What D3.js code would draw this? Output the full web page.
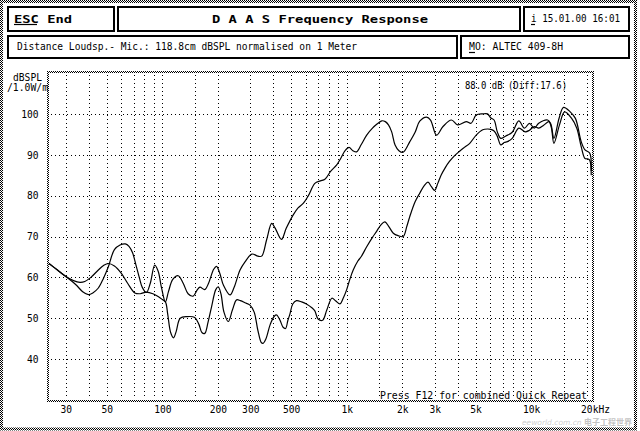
<!DOCTYPE html>
<html><head><meta charset="utf-8">
<title>DAAS Frequency Response</title>
<script src="https://d3js.org/d3.v7.min.js"></script>
<style>
body { margin: 0; background: #fff; }
svg { display: block; }
text { font-family: "DejaVu Sans Mono", "Liberation Mono", monospace; fill: #000; }
.grid line { stroke: #000; stroke-width: 1; stroke-dasharray: 1,3; shape-rendering: crispEdges; }
.box { fill: none; stroke: #000; stroke-width: 2.4; shape-rendering: crispEdges; }
.curve { fill: none; stroke: #000; stroke-width: 1.2; }
.axis text { font-size: 9.6px; }
</style>
</head>
<body>
<script>
// frequency response, two measurements (Hz / dB SPL)
const freqA = [24.3, 27, 30, 34, 37, 39.7, 42, 45, 48, 51, 55, 59, 63, 66, 69, 72, 75, 78, 82, 86,
  91, 95, 99, 104, 108, 114, 122, 130, 138, 147, 155, 160, 170, 178, 190, 197, 205, 215, 233, 245,
  264, 281, 306, 330, 346, 368, 392, 410, 443, 470, 513, 545, 581, 620, 672, 720, 762, 820, 883, 928,
  980, 1030, 1080, 1131, 1200, 1284, 1380, 1460, 1550, 1620, 1685, 1754, 1830, 1920, 2024, 2200, 2350, 2490, 2710, 2850,
  3070, 3330, 3700, 4000, 4450, 4730, 5040, 5470, 5800, 6050, 6300, 6560, 6850, 7290, 7900, 8580, 9200, 9800, 10400, 11000,
  12300, 12800, 13300, 14200, 15000, 16300, 17400, 18700, 19600, 20800, 21200];
const dbA = [63.4, 61.8, 60.2, 58.2, 56.5, 55.8, 56.2, 57.4, 59.8, 62.6, 66.8, 67.9, 68.2, 67.6, 66, 63, 60, 57.5, 56.3, 58.5,
  63, 61.5, 57.5, 54, 56.5, 59.5, 60.4, 58.5, 56, 55.4, 57, 57.6, 57, 58.5, 62, 62.7, 61, 58, 55.7, 57.5,
  61.8, 63.8, 65.7, 65.2, 65.2, 69.2, 73.2, 72, 69.3, 72, 75.3, 77, 78.1, 80, 83, 83.6, 84, 86, 87.5, 89.1,
  91, 91.8, 91, 90.7, 92.5, 94.8, 96.5, 97.5, 98.3, 98.1, 97.3, 95.6, 92.4, 91, 90.6, 93.2, 95.5, 98.2, 99.2, 98.5,
  94.8, 96.9, 98.5, 97.3, 98.1, 97.7, 99.7, 100, 100, 99, 98.5, 95.6, 94, 94.6, 95.5, 98.3, 96.5, 97.7, 96.5, 97.7,
  98.5, 97.5, 94, 99, 101.6, 100.5, 98.9, 93.2, 91.2, 90.4, 86];

const freqB = [24.3, 27, 30, 33, 35.8, 38, 41, 45, 48, 51, 55, 60, 65, 71, 76, 82, 89, 95, 100, 104,
  107, 111, 115, 119, 125, 136, 150, 158, 164, 170, 177, 185, 195, 201, 208, 216, 228, 240, 253, 265,
  281, 299, 315, 330, 345, 353, 365, 385, 405, 417, 435, 452, 466, 480, 492, 510, 534, 570, 605, 650,
  672, 700, 740, 780, 831, 870, 920, 960, 1000, 1040, 1085, 1150, 1200, 1284, 1380, 1450, 1530, 1610, 1700, 1790,
  1900, 2024, 2120, 2200, 2350, 2490, 2640, 2760, 2880, 3000, 3120, 3250, 3420, 3600, 3850, 4080, 4350, 4650, 5040, 5470,
  5800, 6050, 6300, 6560, 6850, 7150, 7440, 7900, 8580, 9300, 9800, 10400, 11000, 11700, 12500, 12900, 13300, 14300, 15200, 16600,
  17700, 18700, 19600, 20300, 20800, 21200];
const dbB = [63.4, 61.8, 60.2, 59.2, 58.8, 59, 60, 61.8, 62.9, 63.4, 62.8, 61, 58.5, 56.2, 56, 56.4, 56, 55.3, 54.6, 54,
  51, 46.5, 45.2, 46.8, 50, 50.4, 50.2, 48.5, 46.5, 46.3, 49, 52.8, 57, 57.7, 56, 51.5, 49.2, 52, 54.5, 54.3,
  53.8, 53.2, 51.5, 47, 44, 43.9, 45, 48.5, 50.5, 50.8, 49.5, 47.8, 47.5, 49.5, 51, 53.5, 54.3, 54, 53.5, 52.5,
  51.8, 49.8, 49.5, 52, 54.9, 54.3, 53.5, 55, 57, 59.5, 61.8, 64, 65.1, 67.5, 69.8, 71.2, 72.8, 73.6, 72.3, 70.8,
  70.2, 70, 72.5, 74.9, 78.5, 80.6, 82.5, 83.3, 82.2, 81.3, 83, 85, 86.8, 88.3, 89.8, 90.8, 91.8, 92.8, 94.8, 96.1,
  96.3, 96.2, 95.8, 94.5, 92.4, 93, 93.2, 94, 96.5, 95.6, 96, 96.9, 96.5, 97.2, 98.1, 96.5, 92.8, 97.5, 100.5, 98.9,
  96.5, 92, 89.1, 89, 88.7, 85];

const yTicks = [40, 50, 60, 70, 80, 90, 100];
const xTicks = [30, 50, 100, 200, 300, 500, 1000, 2000, 3000, 5000, 10000];
const xTickLabels = ["30", "50", "100", "200", "300", "500", "1k", "2k", "3k", "5k", "10k"];
const xGrid = [30, 40, 50, 60, 70, 80, 90, 100, 150, 200, 300, 400, 500, 600, 700, 800, 900,
  1000, 1500, 2000, 3000, 4000, 5000, 6000, 7000, 8000, 9000, 10000, 15000, 20000];

const W = 640, H = 431;
const plot = {left: 49, right: 592, top: 73, bottom: 400};

const svg = d3.select("body").append("svg").attr("width", W).attr("height", H);

const defs = svg.append("defs");
const pat = defs.append("pattern").attr("id", "dither")
  .attr("width", 2).attr("height", 2).attr("patternUnits", "userSpaceOnUse");
pat.append("rect").attr("width", 1).attr("height", 1).attr("fill", "#000");
pat.append("rect").attr("x", 1).attr("y", 1).attr("width", 1).attr("height", 1).attr("fill", "#000");
defs.append("clipPath").attr("id", "clip").append("rect")
  .attr("x", plot.left).attr("y", plot.top)
  .attr("width", plot.right - plot.left).attr("height", plot.bottom - plot.top);

// page border
svg.append("rect").attr("x", 1.5).attr("y", 1.5).attr("width", 634).attr("height", 427.5)
  .attr("fill", "none").attr("stroke", "url(#dither)").attr("stroke-width", 3);

// header boxes
const boxes = [[8, 7, 106, 24], [118, 7, 402, 24], [524, 7, 105, 24], [8, 36, 449, 22], [461, 36, 168, 22]];
svg.selectAll("rect.box").data(boxes).join("rect").attr("class", "box")
  .attr("x", d => d[0]).attr("y", d => d[1]).attr("width", d => d[2]).attr("height", d => d[3]);

function label(txt, x, y, size, len, bold) {
  const t = svg.append("text").attr("x", x).attr("y", y).style("font-size", size + "px").text(txt);
  if (bold) t.style("font-weight", "bold");
  if (len) t.attr("textLength", len).attr("lengthAdjust", "spacingAndGlyphs");
  return t;
}
function underline(x1, x2, y) {
  svg.append("line").attr("x1", x1).attr("x2", x2).attr("y1", y).attr("y2", y)
    .attr("stroke", "#000").attr("stroke-width", 1.2);
}

label("ESC End", 14, 22.5, 11, 58, true);
underline(14, 37, 24.5);
label("D A A S  Frequency Response", 212, 23, 11, 216, true);
label("i 15.01.00 16:01", 531, 22, 10, 89);
underline(531, 535, 24.5);
label("Distance Loudsp.- Mic.: 118.8cm dBSPL normalised on 1 Meter", 17, 50, 10, 340);
label("MO: ALTEC 409-8H", 469, 50, 10, 94);
underline(469, 475, 52.5);

label("dBSPL", 13, 80.5, 9.6, 29);
label("/1.0W/m", 7, 90.5, 9.6, 41);

const x = d3.scaleLog().domain([24.3, 21400]).range([plot.left, plot.right]);
const y = d3.scaleLinear().domain([30, 110]).range([plot.bottom, plot.top]);

// grid
const grid = svg.append("g").attr("class", "grid");
grid.selectAll("line.v").data(xGrid).join("line").attr("class", "v")
  .attr("x1", d => Math.round(x(d)) + 0.5).attr("x2", d => Math.round(x(d)) + 0.5)
  .attr("y1", plot.top + 2).attr("y2", plot.bottom - 1);
grid.selectAll("line.h").data(yTicks).join("line").attr("class", "h")
  .attr("x1", plot.left + 2).attr("x2", plot.right - 1)
  .attr("y1", d => Math.round(y(d)) + 0.5).attr("y2", d => Math.round(y(d)) + 0.5);

// axes (labels only)
const xAxis = d3.axisBottom(x).tickValues(xTicks).tickSize(0).tickPadding(0)
  .tickFormat((d, i) => xTickLabels[i]);
const gx = svg.append("g").attr("class", "axis").attr("transform", `translate(0,${plot.bottom + 6})`).call(xAxis);
gx.select(".domain").remove();
gx.selectAll("text").attr("dy", "0.71em").attr("fill", "#000");

const yAxis = d3.axisLeft(y).tickValues(yTicks).tickSize(0).tickPadding(0);
const gy = svg.append("g").attr("class", "axis").attr("transform", "translate(38.5,0)").call(yAxis);
gy.select(".domain").remove();
gy.selectAll("text").attr("dy", "0.34em").attr("fill", "#000");

svg.append("text").attr("class", "axis").attr("x", x(20000) - 5.5).attr("y", plot.bottom + 13.3)
  .style("font-size", "9.6px").text("20kHz");

// curves
const line = d3.line().x(d => x(d[0])).y(d => y(d[1])).curve(d3.curveCatmullRom.alpha(0.5));
const curves = svg.append("g").attr("clip-path", "url(#clip)");
curves.append("path").attr("class", "curve").attr("d", line(d3.zip(freqA, dbA)));
curves.append("path").attr("class", "curve").attr("d", line(d3.zip(freqB, dbB)));

// plot frame
svg.append("rect").attr("x", plot.left - 1).attr("y", plot.top - 1)
  .attr("width", plot.right - plot.left + 2).attr("height", plot.bottom - plot.top + 2)
  .attr("fill", "none").attr("stroke", "url(#dither)").attr("stroke-width", 2);

label("88.0 dB (Diff:17.6)", 465, 89, 9.6, 102);
label("Press F12 for combined Quick Repeat", 380, 398.5, 10, 207);

// watermark, kept below the 20kHz label
svg.append("text").attr("x", 522).attr("y", 424.5).style("font-family", "DejaVu Sans")
  .style("font-size", "7.5px").style("font-style", "italic").style("fill", "#cfcfcf").text("eeworld.com.cn");
svg.append("text").attr("x", 584).attr("y", 425).style("font-family", "Noto Sans CJK SC")
  .style("font-size", "8px").style("fill", "#c4c4c4").style("font-weight", "bold").text("电子工程世界");
</script>
</body></html>
